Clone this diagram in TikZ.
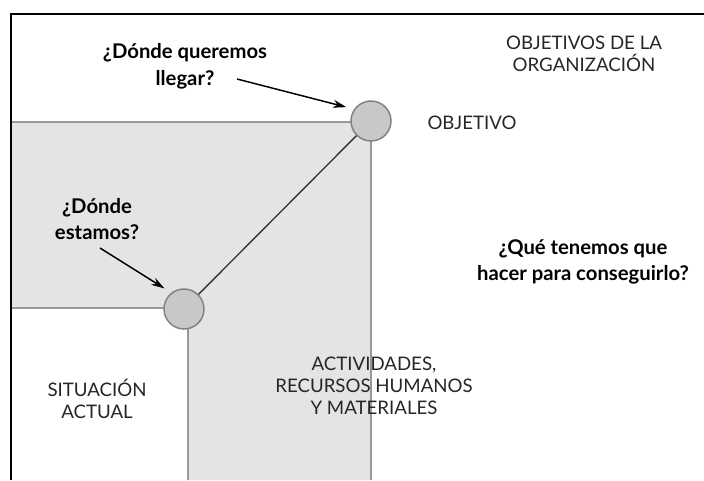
\documentclass[tikz,border=0pt]{standalone}
\usepackage{fontspec}
\setmainfont{Lato}
\usetikzlibrary{arrows.meta}
\definecolor{zona}{HTML}{E4E4E4}
\definecolor{borde}{HTML}{989898}
\definecolor{relleno}{HTML}{C8C8C8}

\begin{document}
\begin{tikzpicture}[x=0.75pt,y=-0.75pt,
  punto/.style={circle,draw=borde!85!black,fill=relleno,line width=1.1pt,inner sep=0,minimum size=30pt},
  pregunta/.style={font=\bfseries\fontsize{15.2}{20}\selectfont,align=center},
  rotulo/.style={font=\fontsize{14}{16.5}\selectfont,align=center,text=black!85},
  flecha/.style={-{Stealth[length=10pt,width=6pt]},line width=1.1pt,shorten >=6pt}]
\useasboundingbox(0,0)rectangle(704,480);
\coordinate(P1)at(11,122);
\coordinate(P2)at(371,122);
\coordinate(P3)at(371,480);
\coordinate(P4)at(188,480);
\coordinate(P5)at(188,308);
\coordinate(P6)at(11,308);
% zona gris
\fill[zona](P1)--(P2)--(P3)--(P4)--(P5)--(P6)--cycle;
\draw[borde,line width=1.4pt](P1)--(P2)--(P3);
\draw[borde,line width=1.4pt](P6)--(P5)--(P4);
% marco
\draw[line width=1.5pt](11,480)--(11,14)--(704,14);
% puntos
\node[punto](obj)at(371,121){};
\node[punto](act)at(184,309){};
\draw[line width=1pt,black!80](obj)--(act);
% textos
\node[pregunta](llegar)at(185,66){¿Dónde queremos\\llegar?};
\node[pregunta](estamos)at(97,219){¿Dónde\\estamos?};
\node[pregunta](hacer)at(583,262){¿Qué tenemos que\\hacer para conseguirlo?};
\node[rotulo](org)at(584,54){OBJETIVOS DE LA\\ORGANIZACIÓN};
\node[rotulo](objetivo)at(472,123){OBJETIVO};
\node[rotulo](situacion)at(97,399){SITUACIÓN\\ACTUAL};
\node[rotulo](actividades)at(374,386){ACTIVIDADES,\\RECURSOS HUMANOS\\Y MATERIALES};
% flechas
\coordinate(colaA)at(237,79);
\coordinate(colaB)at(100,248);
\draw[flecha](colaA)--(obj.145);
\draw[flecha](colaB)--(act.128);
\end{tikzpicture}
\end{document}
